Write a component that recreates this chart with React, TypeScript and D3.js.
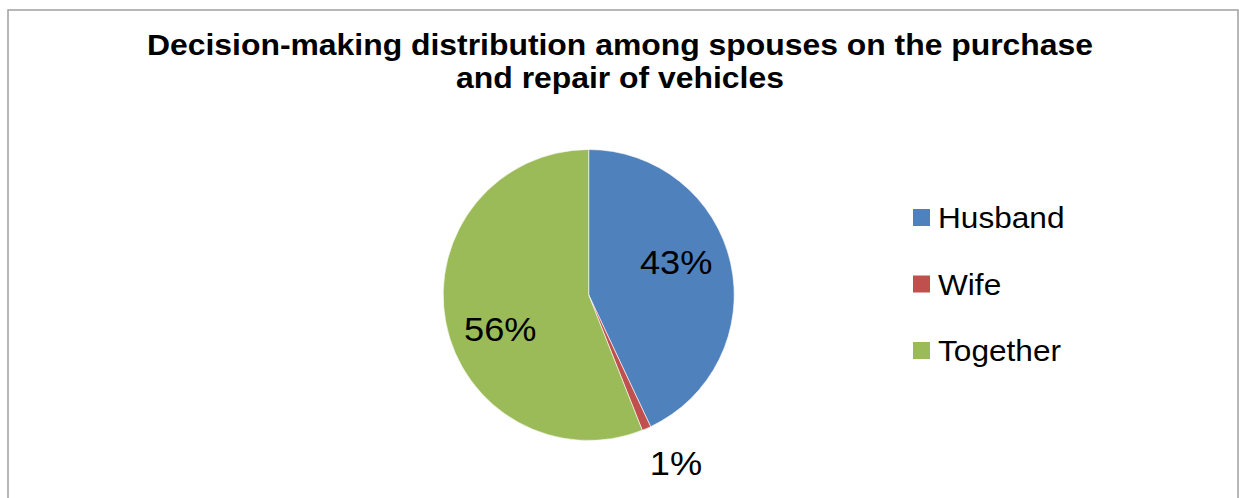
import React from "react";
import * as d3 from "d3";

const categories = ["Husband", "Wife", "Together"];
const values = [43, 1, 56];
const colors = ["#4F81BD", "#C0504D", "#9BBB59"];
const titleLines = [
  "Decision-making distribution among spouses on the purchase",
  "and repair of vehicles",
];

const W = 1239;
const H = 498;
const FONT = "Liberation Sans, Arial, sans-serif";
const SX = 1.08; // horizontal text stretch

export default function App() {
  const cx = 588.7;
  const cy = 295;
  const r = 145.5;

  const data = categories.map((c, i) => ({ name: c, value: values[i], color: colors[i] }));
  const pie = d3.pie<any>().sort(null).value((d: any) => d.value);
  const arcs = pie(data);
  const arcGen = d3.arc<any>().innerRadius(0).outerRadius(r);

  const total = d3.sum(values);

  const labelPos = (a: any) => {
    const small = a.data.value / total < 0.05;
    const mid = (a.startAngle + a.endAngle) / 2 + (small ? -4 : -9) * (Math.PI / 180);
    const rad = small ? r + 44 : 94;
    return [rad * Math.sin(mid), -rad * Math.cos(mid) + (small ? 0 : 2)];
  };

  const legendY = d3.scalePoint<string>().domain(categories).range([228, 361]);

  return (
    <svg
      width={W}
      height={H}
      style={{ position: "absolute", left: 0, top: 0, background: "#fff" }}
      fontFamily={FONT}
    >
      <rect x={8} y={10} width={1230} height={520} fill="#fff" stroke="#a0a0a0" strokeWidth={1.5} />
      {titleLines.map((t, i) => (
        <text
          key={i}
          transform={`translate(620,${55 + i * 33}) scale(1.1,1)`}
          textAnchor="middle"
          fontSize={29}
          fontWeight="bold"
          fill="#000"
        >
          {t}
        </text>
      ))}
      <g transform={`translate(${cx},${cy})`}>
        {arcs.map((a, i) => (
          <path key={i} d={arcGen(a) as string} fill={a.data.color} stroke="#fff" strokeWidth={0.6} />
        ))}
        {arcs.map((a, i) => {
          const [x, y] = labelPos(a);
          return (
            <text
              key={i}
              transform={`translate(${x},${y}) scale(${SX},1)`}
              textAnchor="middle"
              dy="0.36em"
              fontSize={33.5}
              fill="#000"
            >
              {`${a.data.value}%`}
            </text>
          );
        })}
      </g>
      {data.map((d, i) => {
        const y = legendY(d.name) as number;
        return (
          <g key={i}>
            <rect x={913} y={y - 19} width={17} height={17} fill={d.color} />
            <text transform={`translate(938,${y}) scale(${SX + 0.01},1)`} fontSize={29} fill="#000">
              {d.name}
            </text>
          </g>
        );
      })}
    </svg>
  );
}
